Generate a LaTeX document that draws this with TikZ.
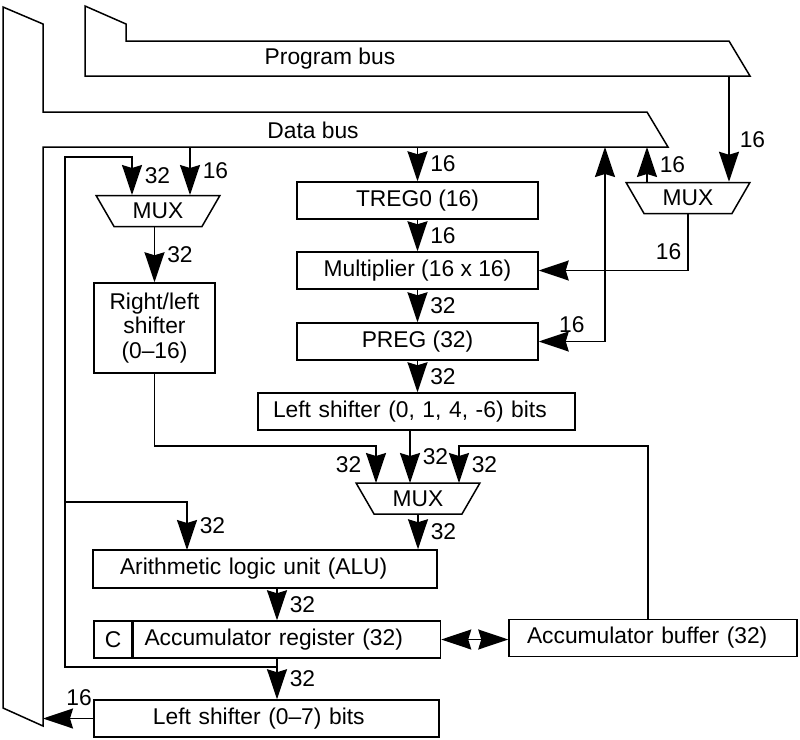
\documentclass[tikz,border=0pt]{standalone}
\usepackage{fontspec}
\setmainfont{Liberation Sans}
\usetikzlibrary{arrows.meta,positioning,shapes.geometric}

\begin{document}
\begin{tikzpicture}[
  x=0.5pt, y=-0.5pt,
  font=\fontsize{11.4}{12.4}\selectfont,
  line width=0.75pt,
  reg/.style={draw, rectangle, inner sep=0pt, minimum height=18.5pt, align=center},
  mux/.style={draw, trapezium, trapezium stretches=true, shape border rotate=180,
              trapezium left angle=57, trapezium right angle=57,
              minimum width=62pt, minimum height=15.5pt, inner sep=0pt},
  bus/.style={draw, line join=miter},
  arr/.style={-{Stealth[length=15pt,width=10pt,inset=1.5pt]}},
  darr/.style={{Stealth[length=15pt,width=10pt,inset=1.5pt]}-{Stealth[length=15pt,width=10pt,inset=1.5pt]}},
  lbl/.style={inner sep=1pt}
]
  \useasboundingbox (0,0) rectangle (800,740);

  % buses
  \draw[bus] (85,6) -- (126,24) -- (126,41) -- (729,41) -- (750,76) -- (85,76) -- cycle;
  \node (pbus) at (330,59) {Program bus};
  \draw[bus] (3,7) -- (43,24) -- (43,112) -- (647,112) -- (668,147) -- (43,147)
    -- (43,726) -- (3,708) -- cycle;
  \node (dbus) at (313,130) {Data bus};
  \coordinate (db) at (43,147);

  % blocks
  \node[reg, minimum width=120.5pt] (treg) at (417.5,200.5) {TREG0 (16)};
  \node[reg, minimum width=120.5pt] (mult) at (417.5,270.5) {Multiplier (16 x 16)};
  \node[reg, minimum width=120.5pt] (preg) at (417.5,341.5) {PREG (32)};
  \node[reg, align=left, inner xsep=7.5pt, text width=143.5pt] (lsh) at (416.5,411.5)
    {Left shifter (0, 1, 4, -6) bits};
  \node[reg, minimum width=60.5pt, minimum height=45pt] (rls) at (154.5,328)
    {Right/left\\shifter\\(0--16)};
  \node[mux] (muxa) at (158,211) {MUX};
  \node[mux] (muxb) at (688,198) {MUX};
  \node[mux] (muxc) at (418,498.5) {MUX};
  \node[reg, minimum height=19pt, align=left, inner xsep=13.5pt, text width=145pt] (alu)
    at (265,569) {Arithmetic logic unit (ALU)};
  \node[reg, minimum width=19pt] (ccell) at (113,639.5) {C};
  \node[reg, anchor=west, align=left, inner xsep=5.5pt, text width=142.5pt] (acc)
    at (ccell.east) {Accumulator register (32)};
  \node[reg, align=left, inner xsep=9pt, text width=126pt] (accbuf) at (653,638)
    {Accumulator buffer (32)};
  \node[reg, align=left, inner xsep=29.5pt, text width=113.5pt] (lsh2) at (266.5,718.5)
    {Left shifter (0--7) bits};

  % taps
  \coordinate (pbtap) at (729,76);
  \coordinate (mbup) at (647,183);
  \coordinate (pgtap) at (605,147);
  \coordinate (main1) at (132,195);
  \coordinate (main2) at (190,195);
  \coordinate (fb) at (65,157);
  \coordinate (accj) at (277,667);
  \coordinate (brk) at (65,502);
  \coordinate (aluin) at (187,550);
  \coordinate (mcin1) at (376,483);
  \coordinate (mcin2) at (410,483);
  \coordinate (mcin3) at (459,483);
  \coordinate (bufx) at (648,446);
  \coordinate (colx) at (277,600);

  % connections
  \draw[arr] (pbtap) -- (pbtap |- muxb.north) node[lbl, pos=0.6, right=4pt] (n1) {16};
  \draw[arr] (mbup) -- (mbup |- db) node[lbl, midway, right=5pt] (n2) {16};
  \draw[arr] (muxb.south) |- (mult.east) node[lbl, pos=0.5, above left=4pt and 2pt] (n3) {16};
  \draw[darr] (pgtap) |- (preg.east) node[lbl, pos=0.75, above=3pt] (n4) {16};
  \draw[arr] (treg.north |- db) -- (treg.north) node[lbl, midway, right=5pt] (n5) {16};
  \draw[arr] (main2 |- db) -- (main2) node[lbl, midway, right=5pt] (n6) {16};
  \draw[arr] (accj) -| (fb) -| (main1) node[lbl, pos=0.75, right=5pt] (n7) {32};
  \draw[arr] (brk) -| (aluin) node[lbl, pos=0.75, right=5pt] (n8) {32};
  \draw[arr] (rls.north |- muxa.south) -- (rls.north) node[lbl, midway, right=5pt] (n9) {32};
  \draw[arr] (treg) -- (mult) node[lbl, midway, right=5pt] (n10) {16};
  \draw[arr] (mult) -- (preg) node[lbl, midway, right=5pt] (n11) {32};
  \draw[arr] (preg) -- (preg |- lsh.north) node[lbl, midway, right=5pt] (n12) {32};
  \draw[arr] (rls.south) -- ++(0,72) -| (mcin1) node[lbl, pos=0.75, left=6pt] (n13) {32};
  \draw[arr] (mcin2 |- lsh.south) -- (mcin2) node[lbl, midway, right=5pt] (n14) {32};
  \draw[arr] (bufx |- accbuf.north) -- (bufx) -| (mcin3) node[lbl, pos=0.75, right=5pt] (n15) {32};
  \draw[arr] (muxc.south) -- (muxc.south |- alu.north) node[lbl, midway, right=5pt] (n16) {32};
  \draw[arr] (alu.south -| colx) -- (acc.north -| colx) node[lbl, midway, right=5pt] (n17) {32};
  \draw[arr] (acc.south -| colx) -- (lsh2.north -| colx) node[lbl, midway, right=5pt] (n18) {32};
  \draw[darr] (acc.east) -- (acc.east -| accbuf.west);
  \draw[arr] (lsh2.west) -- (lsh2.west -| db) node[lbl, pos=0.28, above=5pt] (n19) {16};
\end{tikzpicture}
\end{document}
